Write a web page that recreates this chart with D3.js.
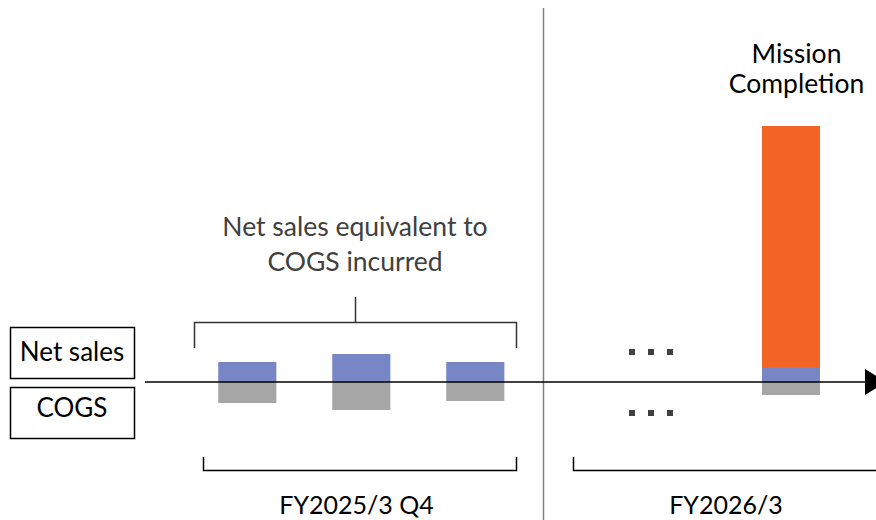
<!DOCTYPE html>
<html>
<head>
<meta charset="utf-8">
<script src="https://cdn.jsdelivr.net/npm/d3@7"></script>
<style>
  html, body { margin: 0; padding: 0; background: #ffffff; }
  svg { display: block; }
  text { font-family: Lato, "Open Sans", sans-serif; }
</style>
</head>
<body>
<svg id="chart" width="876" height="520"></svg>
<script>
// Monthly revenue recognition in FY2025/3 Q4 (net sales equal to COGS incurred)
const q4Months = ["Jan", "Feb", "Mar"];
const q4NetSales = [20, 28, 20];
const q4Cogs = [21, 28, 19];

// FY2026/3: ongoing months (…) and the mission completion month
const fy26Slots = ["…", "Mission Completion"];
const missionNetSalesCost = 15;   // net sales equivalent to COGS
const missionProfit = 241;        // additional net sales recognised at completion
const missionCogs = 13;

// Period labels and side labels
const periodLabels = ["FY2025/3 Q4", "FY2026/3"];
const rowLabels = ["Net sales", "COGS"];
const noteLines = ["Net sales equivalent to", "COGS incurred"];
const missionLines = ["Mission", "Completion"];

const colors = { net: "#7787C5", cogs: "#A6A6A6", profit: "#F26424", ink: "#000000", note: "#404040", divider: "#808080" };

const svg = d3.select("#chart");

// Value scale: positive = net sales (up), negative = COGS (down)
const y = d3.scaleLinear().domain([-40, 260]).range([422, 122]);
const y0 = y(0);

// Horizontal scales for each period
const xQ4 = d3.scaleBand().domain(q4Months).range([190.3, 532.3]).paddingInner(0.49).paddingOuter(0.245);
const xFY26 = d3.scaleBand().domain(fy26Slots).range([581, 861]).paddingInner(0.586).paddingOuter(0.293);

// Period divider
svg.append("line")
  .attr("x1", 543.5).attr("x2", 543.5).attr("y1", 8).attr("y2", 520)
  .attr("stroke", colors.divider).attr("stroke-width", 1.5);

// Q4 bars: net sales above the axis, COGS below
const q4 = q4Months.map((m, i) => ({ m, net: q4NetSales[i], cogs: q4Cogs[i] }));
svg.append("g").selectAll("rect.net").data(q4).join("rect")
  .attr("x", d => xQ4(d.m)).attr("width", xQ4.bandwidth())
  .attr("y", d => y(d.net)).attr("height", d => y0 - y(d.net))
  .attr("fill", colors.net);
svg.append("g").selectAll("rect.cogs").data(q4).join("rect")
  .attr("x", d => xQ4(d.m)).attr("width", xQ4.bandwidth())
  .attr("y", y0).attr("height", d => y(-d.cogs) - y0)
  .attr("fill", colors.cogs);

// Mission completion bar: cost-equivalent net sales + completion net sales, and COGS
const mx = xFY26("Mission Completion"), mw = xFY26.bandwidth();
svg.append("rect").attr("x", mx).attr("width", mw)
  .attr("y", y(missionNetSalesCost + missionProfit))
  .attr("height", y(missionNetSalesCost) - y(missionNetSalesCost + missionProfit))
  .attr("fill", colors.profit);
svg.append("rect").attr("x", mx).attr("width", mw)
  .attr("y", y(missionNetSalesCost)).attr("height", y0 - y(missionNetSalesCost))
  .attr("fill", colors.net);
svg.append("rect").attr("x", mx).attr("width", mw)
  .attr("y", y0).attr("height", y(-missionCogs) - y0)
  .attr("fill", colors.cogs);

// Ellipsis markers for the intervening months (above and below the axis)
const dotCx = xFY26("…") + xFY26.bandwidth() / 2;
[y(30), y(-31)].forEach(cy => {
  [-19, 0, 19].forEach(dx => {
    svg.append("rect").attr("x", dotCx + dx - 3).attr("y", cy - 3)
      .attr("width", 6).attr("height", 6).attr("fill", "#404040");
  });
});

// Timeline axis with arrow head
svg.append("line").attr("x1", 145).attr("x2", 868).attr("y1", y0).attr("y2", y0)
  .attr("stroke", colors.ink).attr("stroke-width", 1.5);
svg.append("path").attr("d", `M865,${y0 - 13} L886,${y0} L865,${y0 + 13} Z`).attr("fill", colors.ink);

// Row label boxes
const boxes = svg.append("g");
rowLabels.forEach((t, i) => {
  const top = i === 0 ? 327 : 387;
  boxes.append("rect").attr("x", 10.5).attr("y", top + 0.5).attr("width", 124).attr("height", 51)
    .attr("fill", "none").attr("stroke", colors.ink).attr("stroke-width", 1.5);
  boxes.append("text").attr("x", 72).attr("y", top + (i === 0 ? 34 : 30))
    .attr("text-anchor", "middle").attr("font-size", 26).attr("fill", colors.ink).text(t);
});

// Bracket over the Q4 bars with its note
const br = svg.append("g").attr("fill", "none").attr("stroke", "#333").attr("stroke-width", 1.5);
br.append("path").attr("d", "M194.5,348 V322.5 H516.5 V348");
br.append("path").attr("d", "M355.5,297 V322.5");
svg.append("g").selectAll("text").data(noteLines).join("text")
  .attr("x", 355).attr("y", (d, i) => 236 + i * 35)
  .attr("text-anchor", "middle").attr("font-size", 26.5).attr("fill", colors.note).text(d => d);

// Mission completion label
svg.append("g").selectAll("text").data(missionLines).join("text")
  .attr("x", 796.5).attr("y", (d, i) => 63 + i * 30)
  .attr("text-anchor", "middle").attr("font-size", 26.5).attr("fill", colors.ink).text(d => d);

// Period brackets below the axis
const pb = svg.append("g").attr("fill", "none").attr("stroke", colors.ink).attr("stroke-width", 1.5);
pb.append("path").attr("d", "M203.5,457 V470.5 H516.5 V457");
pb.append("path").attr("d", "M573.5,457 V470.5 H880");
svg.append("g").selectAll("text").data(periodLabels).join("text")
  .attr("x", (d, i) => i === 0 ? 356.5 : 726).attr("y", 514)
  .attr("text-anchor", "middle").attr("font-size", 25).attr("fill", colors.ink).text(d => d);
</script>
</body>
</html>
